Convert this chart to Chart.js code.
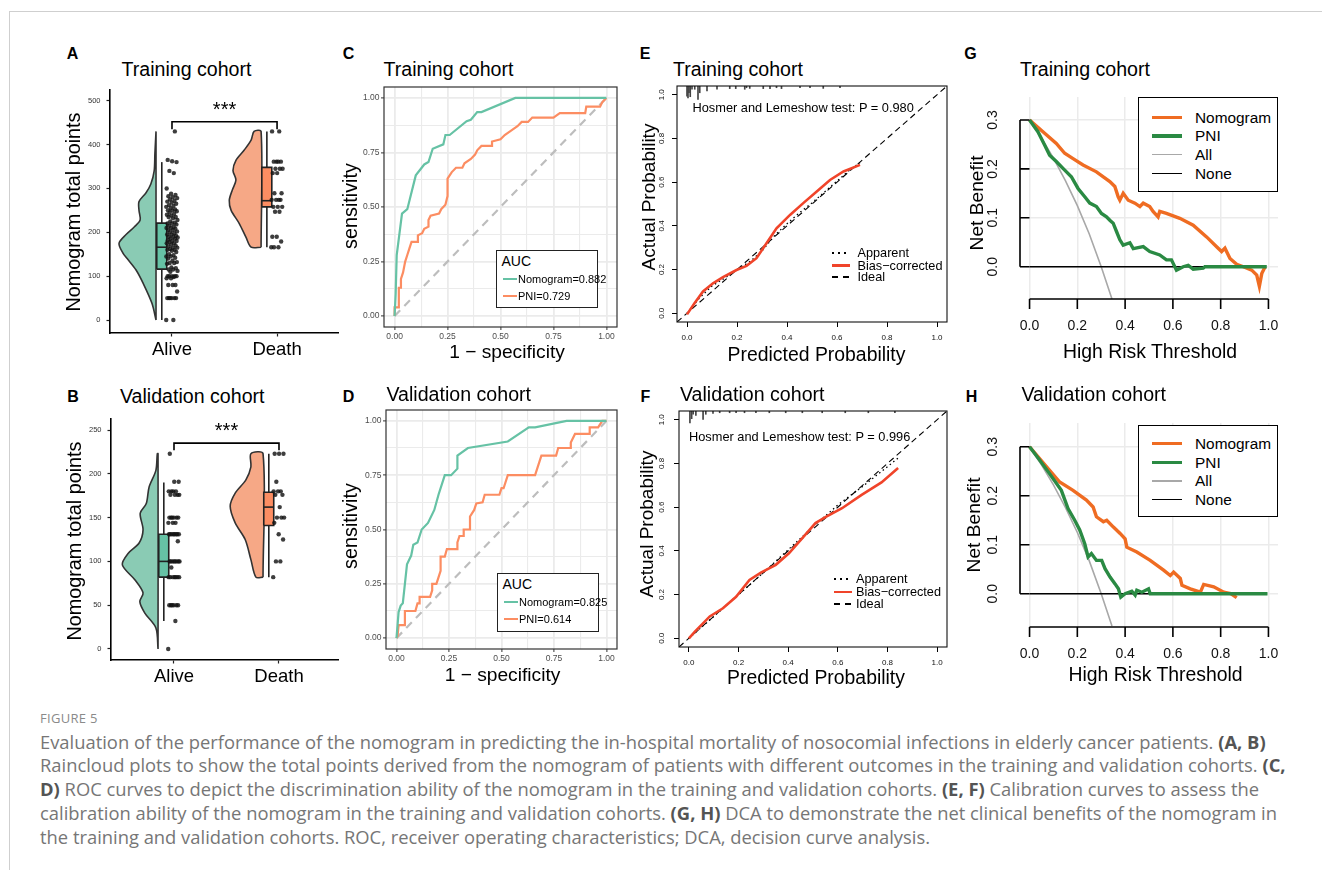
<!DOCTYPE html>
<html>
<head>
<meta charset="utf-8">
<title>Figure 5</title>
<script src="https://cdn.jsdelivr.net/npm/chart.js@4.4.1/dist/chart.umd.min.js"></script>
<style>
  html, body { margin: 0; padding: 0; background: #fff; }
  body { position: relative; width: 1322px; height: 870px; overflow: hidden;
         font-family: "Liberation Sans", Arial, sans-serif; color: #000; }
  canvas { position: absolute; }
  .txt { position: absolute; white-space: nowrap; line-height: 1; }
  .rule-top { position: absolute; left: 9px; top: 11px; right: 0; height: 1px; background: #cfcfcf; }
  .rule-left { position: absolute; left: 9px; top: 11px; bottom: 0; width: 1px; background: #cfcfcf; }
  .box { position: absolute; box-sizing: border-box; background: #fff; }
  .sample { position: absolute; }
  .caption { position: absolute; left: 40px; font-family: "Open Sans", sans-serif; color: #767676;
             white-space: nowrap; line-height: 24px; }
  .caption b { color: #545454; font-weight: 700; }
</style>
</head>
<body>
<div class="rule-top"></div>
<div class="rule-left"></div>
<script>
// ---------- A, B: raincloud plots ----------
const groups = ['Alive', 'Death'];

const trainTicks = [0, 100, 200, 300, 400, 500];
const trainAlive = [0, 0, 50, 50, 50, 50, 50, 50, 65, 80, 80, 80, 95, 95, 98, 100, 100, 100, 100, 100,
  110, 112, 115, 115, 118, 120, 128, 130, 130, 132, 135, 140, 142, 145, 145, 148, 150,
  155, 158, 160, 160, 162, 165, 165, 168, 170, 172, 175, 175, 178, 180, 180, 182,
  185, 186, 188, 190, 190, 192, 195, 195, 198, 200, 202, 205, 205, 208, 210, 210, 212, 215,
  218, 220, 220, 222, 225, 228, 232, 235, 235, 238, 240, 242, 245, 248, 250, 250, 252, 255,
  258, 260, 262, 265, 268, 270, 272, 275, 278, 280, 282, 285, 288, 300, 335, 340, 360, 362, 365, 430];
const trainDeath = [166, 166, 166, 179, 190, 190, 247, 247, 258, 258, 258, 274, 274, 274, 274,
  289, 289, 335, 335, 345, 345, 345, 361, 361, 361, 361, 430, 430];
// lower whisker, q1, median, q3, upper whisker
const trainAliveBox = [0, 116, 166, 221, 360];
const trainDeathBox = [166, 258, 272, 348, 430];
// half violins: levels and relative density
const trainAliveDensY = [0, 38, 84, 114, 140, 152, 175, 195, 212, 228, 250, 270, 290, 310, 340, 380, 430];
const trainAliveDens = [0, 0.11, 0.35, 0.54, 0.78, 0.89, 1, 0.81, 0.59, 0.43, 0.46, 0.46, 0.27, 0.14, 0.05, 0.03, 0];
const trainDeathDensY = [166, 189, 220, 250, 273, 296, 319, 341, 364, 387, 410, 430];
const trainDeathDens = [0.27, 0.41, 0.59, 0.81, 0.86, 0.78, 0.68, 0.76, 0.68, 0.46, 0.27, 0.19];
const trainSig = { y: 452, drop: 435, labelY: 478, label: '***' };

const validTicks = [0, 50, 100, 150, 200, 250];
const validAlive = [0, 32, 50, 50, 50, 50, 50, 50, 82, 82, 82, 82, 82, 82, 82, 93,
  100, 100, 100, 100, 100, 100, 100, 100, 123, 131, 131, 131, 131, 131, 131, 131, 131,
  144, 144, 144, 150, 150, 150, 150, 150, 150, 176, 176, 176, 176, 180, 180, 180, 180, 191, 191, 223];
const validDeath = [82, 100, 100, 125, 131, 144, 150, 150, 150, 162, 176, 176, 180, 180, 180, 191, 223, 223, 223];
const validAliveBox = [32, 82, 100, 131, 190];
const validDeathBox = [82, 141, 162, 179, 223];
const validAliveDensY = [0, 24, 41, 54, 64, 79, 96, 109, 121, 136, 155, 166, 185, 204, 223];
const validAliveDens = [0, 0.06, 0.37, 0.51, 0.42, 0.65, 1, 0.84, 0.53, 0.42, 0.5, 0.33, 0.25, 0.06, 0.02];
const validDeathDensY = [82, 102, 125, 144, 163, 178, 193, 208, 223];
const validDeathDens = [0.2, 0.34, 0.5, 0.78, 0.92, 0.78, 0.48, 0.34, 0.34];
const validSig = { y: 235, drop: 227, labelY: 248, label: '***' };

// ---------- C, D: ROC curves ----------
const rocTicks = [0, 0.25, 0.5, 0.75, 1];
const trainNomoFpr = [0, 0.005, 0.01, 0.035, 0.06, 0.1, 0.14, 0.16, 0.18, 0.23, 0.24, 0.26, 0.34, 0.36, 0.39, 0.41, 0.57, 1];
const trainNomoTpr = [0, 0.10, 0.28, 0.47, 0.49, 0.645, 0.695, 0.706, 0.767, 0.787, 0.83, 0.83, 0.893, 0.90, 0.935, 0.935, 1, 1];
const trainPniFpr = [0, 0, 0.019, 0.02, 0.03, 0.03, 0.04, 0.05, 0.06, 0.07, 0.08, 0.11, 0.11, 0.13, 0.14, 0.16, 0.16, 0.17, 0.21, 0.22,
  0.24, 0.25, 0.25, 0.27, 0.29, 0.32, 0.33, 0.36, 0.38, 0.39, 0.41, 0.46, 0.46, 0.5, 0.52, 0.55, 0.58, 0.6, 0.63, 0.65,
  0.75, 0.78, 0.9, 0.905, 0.97, 0.98, 1];
const trainPniTpr = [0, 0.04, 0.04, 0.13, 0.13, 0.17, 0.2, 0.25, 0.28, 0.31, 0.34, 0.34, 0.37, 0.38, 0.40, 0.41, 0.44, 0.46, 0.47, 0.49,
  0.51, 0.55, 0.63, 0.66, 0.68, 0.68, 0.70, 0.72, 0.74, 0.76, 0.78, 0.78, 0.80, 0.81, 0.83, 0.85, 0.87, 0.89, 0.89, 0.91,
  0.91, 0.93, 0.93, 0.96, 0.96, 0.98, 1];
const validNomoFpr = [0, 0.005, 0.01, 0.02, 0.03, 0.04, 0.05, 0.07, 0.08, 0.1, 0.12, 0.15, 0.18, 0.2, 0.23, 0.26, 0.29, 0.29, 0.34, 0.53, 0.63, 0.66, 0.81, 1];
const validNomoTpr = [0, 0.06, 0.12, 0.15, 0.16, 0.25, 0.34, 0.38, 0.43, 0.44, 0.5, 0.53, 0.59, 0.66, 0.75, 0.75, 0.78, 0.84, 0.875, 0.905, 0.97, 0.97, 1, 1];
const validPniFpr = [0, 0.005, 0.01, 0.04, 0.04, 0.09, 0.1, 0.11, 0.11, 0.16, 0.17, 0.17, 0.19, 0.2, 0.21, 0.21, 0.23, 0.24, 0.29, 0.29,
  0.3, 0.32, 0.32, 0.35, 0.35, 0.37, 0.38, 0.41, 0.42, 0.49, 0.5, 0.51, 0.53, 0.66, 0.67, 0.68, 0.69, 0.76, 0.77, 0.83,
  0.83, 0.85, 0.92, 0.92, 0.96, 0.98, 1];
const validPniTpr = [0, 0.01, 0.06, 0.06, 0.125, 0.125, 0.16, 0.16, 0.19, 0.19, 0.22, 0.25, 0.25, 0.28, 0.31, 0.375, 0.375, 0.41, 0.41, 0.44,
  0.47, 0.47, 0.5, 0.5, 0.56, 0.59, 0.62, 0.625, 0.66, 0.66, 0.69, 0.69, 0.75, 0.75, 0.78, 0.81, 0.84, 0.84, 0.875, 0.875,
  0.9, 0.94, 0.94, 0.97, 0.97, 1, 1];
const trainAuc = ['Nomogram=0.882', 'PNI=0.729'];
const validAuc = ['Nomogram=0.825', 'PNI=0.614'];

// ---------- E, F: calibration curves ----------
const calTicks = [0, 0.2, 0.4, 0.6, 0.8, 1.0];
const trainCalX = [0, 0.03, 0.064, 0.104, 0.144, 0.198, 0.238, 0.278, 0.318, 0.358, 0.412, 0.465, 0.519, 0.572, 0.626, 0.692];
const trainCalBias = [-0.005, 0.046, 0.1, 0.137, 0.165, 0.198, 0.217, 0.252, 0.32, 0.389, 0.45, 0.504, 0.557, 0.61, 0.649, 0.679];
const trainAppX = [0, 0.05, 0.1, 0.15, 0.2, 0.25, 0.3, 0.35, 0.4, 0.45, 0.5, 0.55, 0.6, 0.65, 0.692];
const trainAppY = [0, 0.07, 0.125, 0.16, 0.2, 0.235, 0.285, 0.355, 0.41, 0.46, 0.505, 0.555, 0.605, 0.655, 0.69];
const trainRugX = [0, 0.004, 0.008, 0.013, 0.02, 0.031, 0.044, 0.051, 0.08, 0.12, 0.171, 0.195, 0.231, 0.238, 0.251,
  0.305, 0.332, 0.358, 0.378, 0.452, 0.492, 0.545, 0.612];
const trainRugLen = [0.046, 0.054, 0.03, 0.049, 0.015, 0.015, 0.061, 0.031, 0.023, 0.015, 0.012, 0.012, 0.015, 0.008, 0.011,
  0.012, 0.012, 0.008, 0.012, 0.008, 0.008, 0.011, 0.008];
const trainHL = 'Hosmer and Lemeshow test: P = 0.980';
const validCalX = [0, 0.024, 0.084, 0.137, 0.19, 0.244, 0.29, 0.35, 0.403, 0.457, 0.51, 0.55, 0.617, 0.696, 0.776, 0.843];
const validCalBias = [0, 0.03, 0.1, 0.137, 0.19, 0.267, 0.3, 0.336, 0.389, 0.458, 0.527, 0.554, 0.595, 0.656, 0.713, 0.779];
const validAppX = [0, 0.1, 0.2, 0.3, 0.4, 0.5, 0.55, 0.6, 0.7, 0.8, 0.843];
const validAppY = [0, 0.1, 0.2, 0.3, 0.405, 0.51, 0.56, 0.61, 0.695, 0.785, 0.825];
const validRugX = [0.004, 0.011, 0.017, 0.028, 0.057, 0.068, 0.097, 0.124, 0.164, 0.19, 0.224, 0.27, 0.324, 0.39, 0.457, 0.537, 0.63, 0.723, 0.83];
const validRugLen = [0.054, 0.035, 0.015, 0.02, 0.038, 0.015, 0.011, 0.008, 0.008, 0.008, 0.008, 0.008, 0.008, 0.008, 0.008, 0.008, 0.008, 0.008, 0.008];
const validHL = 'Hosmer and Lemeshow test: P = 0.996';
const calLegend = ['Apparent', 'Bias\u2212corrected', 'Ideal'];

// ---------- G, H: decision curves ----------
const dcaXTicks = [0, 0.2, 0.4, 0.6, 0.8, 1.0];
const dcaYTicks = [0, 0.1, 0.2, 0.3];
const trainNomoT = [0, 0.056, 0.112, 0.147, 0.182, 0.224, 0.28, 0.336, 0.357, 0.371, 0.378, 0.392, 0.413, 0.441, 0.462, 0.476, 0.503, 0.517, 0.538, 0.545,
  0.573, 0.629, 0.685, 0.741, 0.783, 0.804, 0.818, 0.839, 0.867, 0.895, 0.93, 0.951, 0.962, 0.972, 0.986];
const trainNomoNB = [0.3, 0.276, 0.252, 0.232, 0.221, 0.208, 0.194, 0.174, 0.164, 0.143, 0.136, 0.15, 0.136, 0.13, 0.123, 0.13, 0.123, 0.113, 0.102, 0.113,
  0.109, 0.099, 0.085, 0.061, 0.041, 0.031, 0.038, 0.017, 0.005, 0, -0.007, -0.017, -0.04, -0.014, 0];
const trainPniT = [0, 0.035, 0.063, 0.084, 0.112, 0.14, 0.175, 0.203, 0.231, 0.252, 0.28, 0.301, 0.322, 0.336, 0.35, 0.364, 0.378, 0.392, 0.42, 0.434,
  0.476, 0.503, 0.545, 0.573, 0.594, 0.615, 0.643, 0.664, 0.685, 0.727, 0.734, 0.993];
const trainPniNB = [0.3, 0.276, 0.249, 0.228, 0.215, 0.201, 0.184, 0.16, 0.143, 0.13, 0.123, 0.109, 0.102, 0.095, 0.089, 0.072, 0.055, 0.044, 0.049, 0.037,
  0.041, 0.031, 0.024, 0.014, 0.014, -0.007, 0, 0.003, -0.005, -0.003, 0, 0];
const validNomoT = [0, 0.042, 0.084, 0.126, 0.182, 0.238, 0.266, 0.28, 0.309, 0.323, 0.351, 0.379, 0.4, 0.407, 0.449, 0.505, 0.561, 0.589, 0.603, 0.631,
  0.638, 0.673, 0.715, 0.729, 0.771, 0.813, 0.842, 0.867];
const validNomoNB = [0.3, 0.276, 0.252, 0.228, 0.211, 0.191, 0.177, 0.157, 0.147, 0.15, 0.136, 0.123, 0.112, 0.095, 0.085, 0.068, 0.048, 0.037, 0.044, 0.031,
  0.017, 0.01, 0.003, 0.019, 0.014, 0.003, 0, -0.008];
const validPniT = [0, 0.042, 0.084, 0.133, 0.161, 0.189, 0.21, 0.231, 0.245, 0.259, 0.28, 0.302, 0.316, 0.337, 0.358, 0.372, 0.382, 0.4, 0.428, 0.442,
  0.449, 0.47, 0.498, 0.505, 0.996];
const validPniNB = [0.3, 0.273, 0.245, 0.211, 0.174, 0.15, 0.13, 0.102, 0.075, 0.082, 0.068, 0.068, 0.051, 0.034, 0.02, 0.01, -0.007, 0, 0.005, -0.003,
  0.007, 0.003, 0.01, 0, 0];
const allT = [0, 0.05, 0.1, 0.15, 0.2, 0.25, 0.3, 0.345];
const allNB = [0.3, 0.263, 0.222, 0.176, 0.125, 0.067, 0, -0.066];
const noneT = [0, 0.99];
const noneNB = [0, 0];
const dcaLegend = ['Nomogram', 'PNI', 'All', 'None'];

// ---------- colours ----------
const TEAL = '#66c2a5', SALMON = '#fc8d62';
const TEAL_LIGHT = '#8acbb4', SALMON_LIGHT = '#f6a886';
const DCA_ORANGE = '#ef6c22', DCA_GREEN = '#2a8a43', DCA_GREY = '#a8a8a8';
const CAL_RED = '#f0442a';

Chart.defaults.font.family = '"Liberation Sans", Arial, Helvetica, sans-serif';
Chart.defaults.color = '#000';

// ---------- helpers ----------
const pts = (xs, ys) => xs.map((x, i) => ({ x, y: ys[i] }));
const jitter = i => (((i * 0.618034) % 1) - 0.5) * 0.11;

function line(data, color, width, extra) {
  return Object.assign({ data, showLine: true, borderColor: color, borderWidth: width,
    pointRadius: 0, fill: false, tension: 0 }, extra || {});
}

function makeChart(area, pad, datasets, scales, pluginOpts, plugins) {
  const c = document.createElement('canvas');
  c.width = area.r - area.l + pad.l + pad.r;
  c.height = area.b - area.t + pad.t + pad.b;
  c.style.left = (area.l - pad.l) + 'px';
  c.style.top = (area.t - pad.t) + 'px';
  document.body.appendChild(c);
  // pin axis sizes so the plot area lands where the reference has it
  scales.x.afterFit = s => { s.height = pad.b; s.paddingLeft = 0; s.paddingRight = 0; };
  scales.y.afterFit = s => { s.width = pad.l; s.paddingTop = 0; s.paddingBottom = 0; };
  return new Chart(c, {
    type: 'scatter',
    data: { datasets },
    options: {
      responsive: false, animation: false, devicePixelRatio: 1,
      layout: { autoPadding: false, padding: { left: 0, top: pad.t, right: pad.r, bottom: 0 } },
      plugins: Object.assign({ legend: { display: false }, tooltip: { enabled: false } }, pluginOpts || {}),
      scales
    },
    plugins: plugins || []
  });
}

function text(str, x, y, size, o) {
  o = o || {};
  const d = document.createElement('div');
  d.className = 'txt';
  d.textContent = str;
  d.style.fontSize = size + 'px';
  d.style.left = x + 'px';
  d.style.top = y + 'px';
  if (o.bold) d.style.fontWeight = 'bold';
  if (o.color) d.style.color = o.color;
  const a = o.anchor || 'c';
  d.style.transform = a === 'l' ? 'translate(0,-50%)' : 'translate(-50%,-50%)' + (o.rot ? ' rotate(-90deg)' : '');
  document.body.appendChild(d);
  return d;
}

function block(cls, x, y, w, h, css) {
  const d = document.createElement('div');
  d.className = cls;
  Object.assign(d.style, { left: x + 'px', top: y + 'px', width: w + 'px', height: h + 'px' }, css || {});
  document.body.appendChild(d);
  return d;
}

// panel border drawn over the plot area
const frame = {
  id: 'frame',
  afterDatasetsDraw(chart, args, opts) {
    const { ctx, chartArea: a } = chart;
    ctx.save();
    ctx.strokeStyle = opts.color;
    ctx.lineWidth = opts.width;
    ctx.strokeRect(a.left, a.top, a.right - a.left, a.bottom - a.top);
    ctx.restore();
  }
};

// significance stars above the bracket
const sigText = {
  id: 'sigText',
  afterDatasetsDraw(chart, args, opts) {
    const { ctx, scales: { x, y } } = chart;
    ctx.save();
    ctx.font = '20px "Liberation Sans", Arial';
    ctx.fillStyle = '#000';
    ctx.textAlign = 'center';
    ctx.textBaseline = 'middle';
    ctx.fillText(opts.label, x.getPixelForValue(1.5), y.getPixelForValue(opts.labelY));
    ctx.restore();
  }
};

// base-R style axes: lines only from first to last tick
const rAxes = {
  id: 'rAxes',
  afterDatasetsDraw(chart) {
    const { ctx, chartArea: a, scales: { x, y } } = chart;
    const xs = x.ticks.map(t => x.getPixelForValue(t.value));
    const ys = y.ticks.map(t => y.getPixelForValue(t.value));
    ctx.save();
    ctx.strokeStyle = '#000';
    ctx.lineWidth = 1.6;
    ctx.beginPath();
    ctx.moveTo(xs[0], a.bottom);
    ctx.lineTo(xs[xs.length - 1], a.bottom);
    xs.forEach(px => { ctx.moveTo(px, a.bottom); ctx.lineTo(px, a.bottom + 10); });
    ctx.moveTo(a.left, ys[0]);
    ctx.lineTo(a.left, ys[ys.length - 1]);
    ys.forEach(py => { ctx.moveTo(a.left, py); ctx.lineTo(a.left + 9.5, py); });
    ctx.stroke();
    ctx.restore();
  }
};

// ---------- A, B ----------
function raincloud(area, xr, yr, ticks, sets, sig, halfWidth) {
  const ds = [];
  ds.push(line([{ x: 1, y: sig.drop }, { x: 1, y: sig.y }, { x: 2, y: sig.y }, { x: 2, y: sig.drop }], '#000', 1.6, { order: 0 }));
  sets.forEach((g, gi) => {
    const pos = gi + 1;
    const edge = pos - 0.152;
    const [lo, q1, med, q3, hi] = g.box;
    const b0 = pos - 0.145, b1 = pos - 0.05, bm = pos - 0.097;
    ds.push({ data: g.values.map((v, i) => ({ x: pos + jitter(i), y: v })), pointRadius: 2.2,
      pointBackgroundColor: 'rgba(20,20,20,0.82)', pointBorderWidth: 0, order: 0 });
    ds.push(line([{ x: b0, y: med }, { x: b1, y: med }], '#222', 1.6, { order: 1 }));
    ds.push(line([{ x: b0, y: q1 }, { x: b1, y: q1 }, { x: b1, y: q3 }, { x: b0, y: q3 }, { x: b0, y: q1 }],
      '#222', 1.6, { fill: 'shape', backgroundColor: g.boxFill, order: 2 }));
    ds.push(line([{ x: bm, y: lo }, { x: bm, y: hi }], '#222', 1.6, { order: 3 }));
    const outline = [{ x: edge, y: g.densY[0] }];
    g.densY.forEach((y, i) => outline.push({ x: edge - g.dens[i] * halfWidth, y }));
    outline.push({ x: edge, y: g.densY[g.densY.length - 1] }, { x: edge, y: g.densY[0] });
    ds.push(line(outline, '#333', 1.6, { fill: 'shape', backgroundColor: g.violinFill, tension: 0.3, order: 4 }));
  });
  const axisGrid = { drawOnChartArea: false, tickLength: 3.5, tickColor: '#222', tickWidth: 1.2 };
  const axisBorder = { color: '#000', width: 1.6 };
  makeChart(area, { l: 45, t: 5, r: 5, b: 32 }, ds, {
    x: { type: 'linear', min: xr[0], max: xr[1],
      afterBuildTicks: s => { s.ticks = groups.map((g, i) => ({ value: i + 1 })); },
      ticks: { autoSkip: false, maxRotation: 0, callback: v => groups[v - 1], font: { size: 18.5 }, color: '#000', padding: 2 },
      grid: axisGrid, border: axisBorder },
    y: { type: 'linear', min: yr[0], max: yr[1],
      afterBuildTicks: s => { s.ticks = ticks.map(v => ({ value: v })); },
      ticks: { autoSkip: false, font: { size: 7.5 }, color: '#333', padding: 6 },
      grid: axisGrid, border: axisBorder }
  }, { sigText: sig }, [sigText]);
}

raincloud({ l: 110, t: 90, r: 338, b: 333 }, [0.41, 2.58], [-29.6, 524.4], trainTicks, [
  { values: trainAlive, box: trainAliveBox, densY: trainAliveDensY, dens: trainAliveDens, boxFill: TEAL, violinFill: TEAL_LIGHT },
  { values: trainDeath, box: trainDeathBox, densY: trainDeathDensY, dens: trainDeathDens, boxFill: SALMON, violinFill: SALMON_LIGHT }
], trainSig, 0.352);

raincloud({ l: 111, t: 419, r: 338, b: 660 }, [0.4, 2.562], [-12.6, 262.6], validTicks, [
  { values: validAlive, box: validAliveBox, densY: validAliveDensY, dens: validAliveDens, boxFill: TEAL, violinFill: TEAL_LIGHT },
  { values: validDeath, box: validDeathBox, densY: validDeathDensY, dens: validDeathDens, boxFill: SALMON, violinFill: SALMON_LIGHT }
], validSig, 0.34);

// ---------- C, D ----------
function roc(area, nomo, pni, labelPad) {
  const grid = [];
  for (let i = 0; i < rocTicks.length; i++) {
    grid.push(rocTicks[i]);
    if (i < rocTicks.length - 1) grid.push((rocTicks[i] + rocTicks[i + 1]) / 2);
  }
  const isMajor = v => rocTicks.includes(v);
  const gridOpt = {
    color: '#ebebeb',
    lineWidth: c => (c.tick && isMajor(c.tick.value) ? 1.8 : 1.1),
    tickLength: 3,
    tickColor: c => (c.tick && isMajor(c.tick.value) ? '#333' : 'rgba(0,0,0,0)'),
    tickWidth: 1
  };
  const axis = (pad) => ({
    type: 'linear', min: -0.05, max: 1.05,
    afterBuildTicks: s => { s.ticks = grid.map(v => ({ value: v })); },
    ticks: { autoSkip: false, maxRotation: 0, font: { size: 8.5 }, color: '#4d4d4d', padding: pad,
      callback: v => (isMajor(v) ? v.toFixed(2) : '') },
    grid: gridOpt, border: { display: false }
  });
  makeChart(area, { l: 35, t: 5, r: 8, b: 20 }, [
    line(pts(nomo[0], nomo[1]), TEAL, 2.2),
    line(pts(pni[0], pni[1]), SALMON, 2.2),
    line([{ x: 0, y: 0 }, { x: 1, y: 1 }], '#bdbdbd', 2.2, { borderDash: [8, 6] })
  ], { x: axis(labelPad), y: axis(1.5) }, { frame: { color: '#333', width: 1.2 } }, [frame]);
}

roc({ l: 384, t: 87, r: 617, b: 327 }, [trainNomoFpr, trainNomoTpr], [trainPniFpr, trainPniTpr], 1.6);
roc({ l: 386, t: 410, r: 617, b: 649 }, [validNomoFpr, validNomoTpr], [validPniFpr, validPniTpr], 1.2);

// ---------- E, F ----------
function calibration(area, bias, app, rug, yPad) {
  const lim = [-0.04, 1.04];
  const common = {
    type: 'linear', min: lim[0], max: lim[1], offset: false,
    afterBuildTicks: s => { s.ticks = calTicks.map(v => ({ value: v })); },
    grid: { offset: false, drawOnChartArea: false, tickLength: 5, tickColor: '#000', tickWidth: 1 },
    border: { display: false }
  };
  makeChart(area, { l: 26, t: 5, r: 5, b: 24 }, [
    line(pts(bias[0], bias[1]), CAL_RED, 2.6),
    line(pts(app[0], app[1]), '#000', 1.3, { borderDash: [1.5, 3] }),
    line([{ x: lim[0], y: lim[0] }, { x: lim[1], y: lim[1] }], '#000', 1.1, { borderDash: [6, 4] }),
    { type: 'bar', data: rug[0].map((x, i) => ({ x, y: [lim[1] - rug[1][i], lim[1]] })),
      backgroundColor: '#444', borderWidth: 0, barThickness: 1 }
  ], {
    x: Object.assign({}, common, { ticks: { autoSkip: false, maxRotation: 0, font: { size: 8 }, color: '#111', padding: 6,
      callback: v => v.toFixed(1) } }),
    y: Object.assign({}, common, { ticks: { autoSkip: false, minRotation: 90, maxRotation: 90, crossAlign: 'center',
      font: { size: 8 }, color: '#111', padding: yPad, callback: v => v.toFixed(1) } })
  }, { frame: { color: '#111', width: 1.1 } }, [frame]);
}

calibration({ l: 677, t: 86, r: 947, b: 322 }, [trainCalX, trainCalBias], [trainAppX, trainAppY], [trainRugX, trainRugLen], 4.7);
calibration({ l: 679, t: 411, r: 947, b: 647 }, [validCalX, validCalBias], [validAppX, validAppY], [validRugX, validRugLen], 6.7);

// ---------- G, H ----------
function dca(area, yr, nomo, pni) {
  const gridOpt = { drawOnChartArea: true, drawTicks: false, color: '#ebebeb', lineWidth: 1.5 };
  makeChart(area, { l: 40, t: 5, r: 4, b: 40 }, [
    line(pts(pni[0], pni[1]), DCA_GREEN, 3.4),
    line(pts(nomo[0], nomo[1]), DCA_ORANGE, 3.4),
    line(pts(noneT, noneNB), '#000', 1.6),
    line(pts(allT, allNB), DCA_GREY, 1.6)
  ], {
    x: { type: 'linear', min: -0.04, max: 1.04,
      afterBuildTicks: s => { s.ticks = dcaXTicks.map(v => ({ value: v })); },
      ticks: { autoSkip: false, maxRotation: 0, font: { size: 14 }, color: '#111', padding: 19, callback: v => v.toFixed(1) },
      grid: gridOpt, border: { display: false } },
    y: { type: 'linear', min: yr[0], max: yr[1],
      afterBuildTicks: s => { s.ticks = dcaYTicks.map(v => ({ value: v })); },
      ticks: { autoSkip: false, minRotation: 90, maxRotation: 90, crossAlign: 'center', font: { size: 14 }, color: '#111',
        padding: 17.5, callback: v => v.toFixed(1) },
      grid: gridOpt, border: { display: false } }
  }, {}, [rAxes]);
}

dca({ l: 1020, t: 97, r: 1278, b: 299 }, [-0.066, 0.347], [trainNomoT, trainNomoNB], [trainPniT, trainPniNB]);
dca({ l: 1020, t: 423, r: 1278, b: 627 }, [-0.068, 0.3485], [validNomoT, validNomoNB], [validPniT, validPniNB]);

// ---------- panel letters, titles, axis titles ----------
[['A', 72.5, 54], ['C', 348.5, 54], ['E', 645, 54], ['G', 970.5, 54],
 ['B', 73, 397], ['D', 348.5, 397], ['F', 645.5, 397], ['H', 971.5, 397]]
  .forEach(([s, x, y]) => text(s, x, y, 16, { bold: true }));

[['Training cohort', 121.5, 70], ['Validation cohort', 120, 396.5],
 ['Training cohort', 383.5, 70], ['Validation cohort', 386.5, 395],
 ['Training cohort', 673, 70], ['Validation cohort', 680, 395],
 ['Training cohort', 1020, 70], ['Validation cohort', 1021.5, 395]]
  .forEach(([s, x, y]) => text(s, x, y, 19.6, { anchor: 'l' }));

text('Nomogram total points', 74, 211.5, 19.8, { rot: true });
text('Nomogram total points', 75, 540.5, 19.8, { rot: true });
text('sensitivity', 350.5, 205.5, 19.8, { rot: true });
text('sensitivity', 350.5, 525.5, 19.8, { rot: true });
text('1 \u2212 specificity', 507, 351.5, 19.2);
text('1 \u2212 specificity', 502.5, 675, 19.2);
text('Actual Probability', 648, 197, 19, { rot: true });
text('Actual Probability', 646, 524, 19, { rot: true });
text('Predicted Probability', 816.5, 355, 19.4);
text('Predicted Probability', 816, 678, 19.4);
text('Net Benefit', 976.5, 203, 19.2, { rot: true });
text('Net Benefit', 973.5, 525, 19.2, { rot: true });
text('High Risk Threshold', 1150, 351.5, 19.4);
text('High Risk Threshold', 1155.5, 675, 19.4);

// ---------- legends ----------
function rocLegend(x, y, w, h, labels, rowY) {
  block('box', x, y, w, h, { border: '1.3px solid #222' });
  text('AUC', x + 5.5, y + 10.5, 14, { anchor: 'l' });
  [TEAL, SALMON].forEach((c, i) => {
    block('sample', x + 7, rowY[i] - 1, 14, 2.2, { background: c });
    text(labels[i], x + 22, rowY[i], 11, { anchor: 'l' });
  });
}
rocLegend(496, 250, 102, 58, trainAuc, [279, 296]);
rocLegend(497, 573, 102, 59, validAuc, [601.5, 618.5]);

function calLegendAt(x, textX, rows) {
  const styles = [
    { background: 'linear-gradient(to right, #000 2px, transparent 2px) 0 0 / 6px 2px repeat-x', h: 2 },
    { background: CAL_RED, h: 2.6 },
    { background: 'linear-gradient(to right, #000 6px, transparent 6px) 0 0 / 11px 2.5px repeat-x', h: 2.5 }
  ];
  calLegend.forEach((s, i) => {
    block('sample', x, rows[i] - styles[i].h / 2, 18, styles[i].h, { background: styles[i].background });
    text(s, textX, rows[i], 12.7, { anchor: 'l' });
  });
}
calLegendAt(832, 857.5, [253, 265.5, 277]);
calLegendAt(834, 856, [579, 592, 604]);
text(trainHL, 692.5, 108, 12.8, { anchor: 'l' });
text(validHL, 689, 437, 12.8, { anchor: 'l' });

function dcaLegendAt(y, h, rows) {
  block('box', 1138, y, 140, h, { border: '1.5px solid #000' });
  const styles = [[DCA_ORANGE, 3.4], [DCA_GREEN, 3.4], [DCA_GREY, 1.6], ['#000', 1.6]];
  dcaLegend.forEach((s, i) => {
    block('sample', 1151.5, rows[i] - styles[i][1] / 2, 30, styles[i][1], { background: styles[i][0] });
    text(s, 1195, rows[i], 15.4, { anchor: 'l' });
  });
}
dcaLegendAt(97, 95, [117.5, 136, 154.5, 173.5]);
dcaLegendAt(425, 92, [443.5, 462.5, 481, 499.5]);

// ---------- caption ----------
const captionHead = 'FIGURE 5';
const captionLines = [
  'Evaluation of the performance of the nomogram in predicting the in-hospital mortality of nosocomial infections in elderly cancer patients. <b>(A, B)</b>',
  'Raincloud plots to show the total points derived from the nomogram of patients with different outcomes in the training and validation cohorts. <b>(C,</b>',
  '<b>D)</b> ROC curves to depict the discrimination ability of the nomogram in the training and validation cohorts. <b>(E, F)</b> Calibration curves to assess the',
  'calibration ability of the nomogram in the training and validation cohorts. <b>(G, H)</b> DCA to demonstrate the net clinical benefits of the nomogram in',
  'the training and validation cohorts. ROC, receiver operating characteristics; DCA, decision curve analysis.'
];
const head = block('caption', 40, 706, 200, 24, { fontSize: '13px', color: '#8a8a8a', letterSpacing: '0.3px' });
head.textContent = captionHead;
const lineEls = captionLines.map((html, i) => {
  const d = block('caption', 40, 729.5 + i * 23.8, 1280, 24, { fontSize: '16px', width: 'auto' });
  d.innerHTML = html;
  return d;
});
// scale the caption font so the first line spans the same width as in the figure
const w0 = lineEls[0].getBoundingClientRect().width;
const fs = 16 * 1226 / w0;
lineEls.forEach(d => { d.style.fontSize = fs.toFixed(2) + 'px'; });
</script>
</body>
</html>
